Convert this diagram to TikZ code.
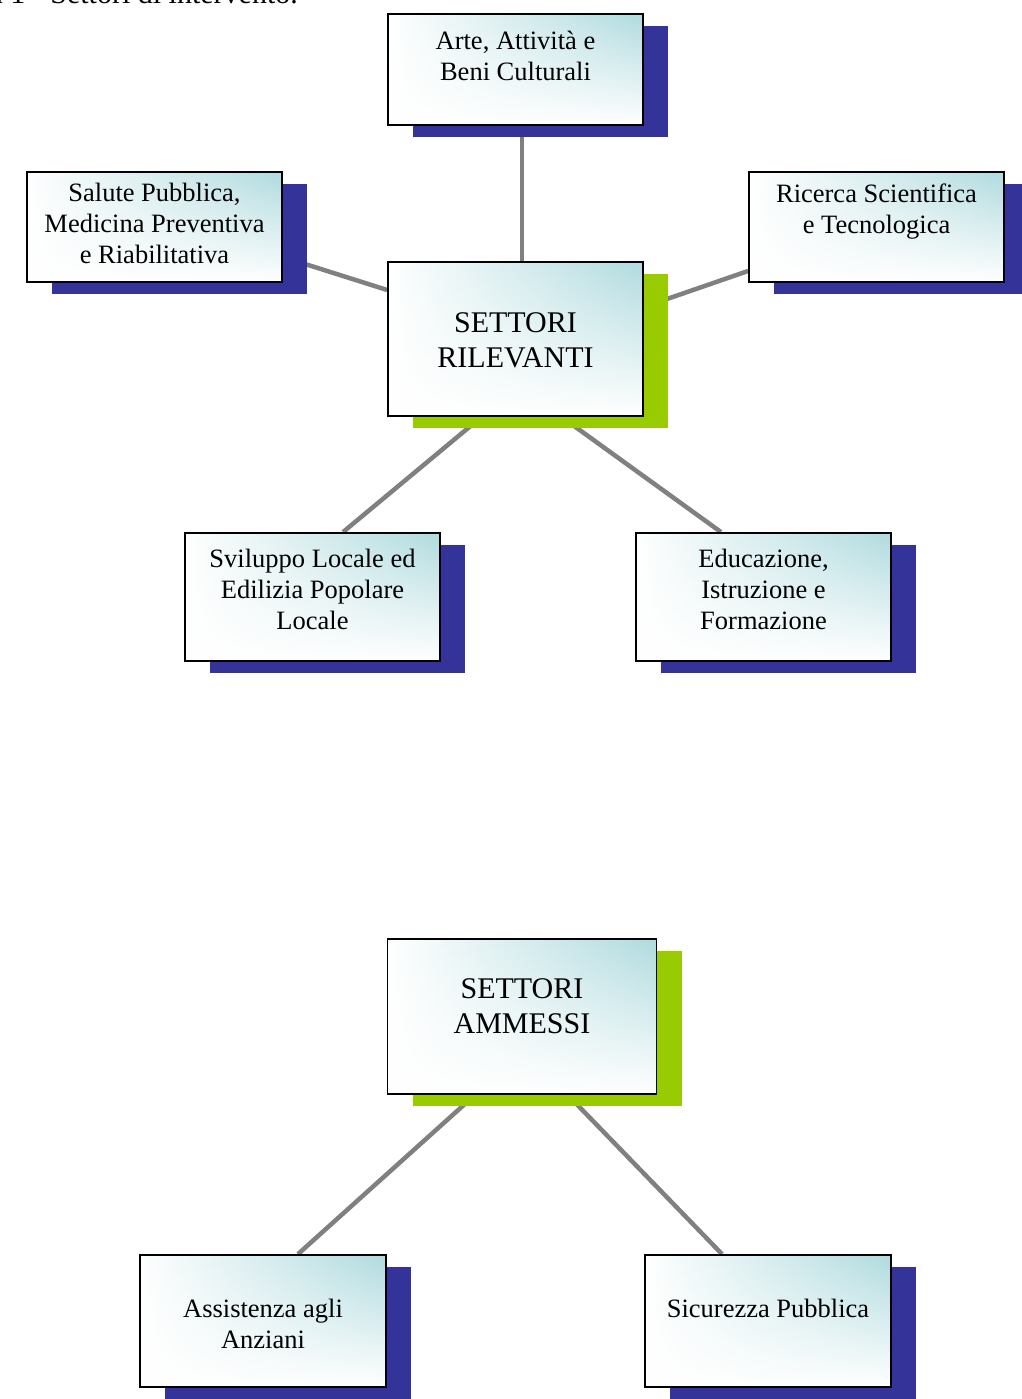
\documentclass[tikz,border=0pt]{standalone}
\usepackage{fontspec}
\setmainfont{Liberation Serif}
\usetikzlibrary{calc,shadows,fadings,backgrounds}
\definecolor{sblue}{RGB}{51,51,153}
\definecolor{sgreen}{RGB}{153,204,0}
\definecolor{tealc}{RGB}{176,219,223}
\definecolor{linkc}{RGB}{128,128,128}
\tikzset{
  boxbase/.style={rectangle, draw=black, line width=1.8pt, inner sep=0pt,
    path picture={
      \fill[left color=white, right color=tealc]
        (path picture bounding box.south west) rectangle (path picture bounding box.north east);
      \fill[white, path fading=north]
        (path picture bounding box.south west) rectangle (path picture bounding box.north east);
    }},
  bluebox/.style={boxbase, general shadow={fill=sblue, shadow xshift=25pt, shadow yshift=-12pt}},
  greenbox/.style={boxbase, general shadow={fill=sgreen, shadow xshift=25pt, shadow yshift=-12pt}},
  txt/.style={align=center, inner sep=0pt, anchor=base, font=\fontsize{26.5}{31}\selectfont},
  bigtxt/.style={align=center, inner sep=0pt, anchor=base, font=\fontsize{30}{35}\selectfont},
  link/.style={draw=linkc, line width=4.5pt}
}
\begin{document}
\begin{tikzpicture}[x=1pt,y=1pt]
\useasboundingbox (0,0) rectangle (1021,1399);
\node[anchor=base east, inner sep=0pt, font=\fontsize{30}{34}\selectfont] (title) at (298,1395.5) {Figura 1 - Settori di intervento.};

\node[bluebox, minimum width=255pt, minimum height=111pt] (arte) at (515.5,1329.5) {};
\node[txt] (artet) at (515.5,1318) {Arte, Attività e\\Beni Culturali};

\node[bluebox, minimum width=255pt, minimum height=110pt] (sal) at (154.5,1172) {};
\node[txt] (salt) at (154.5,1135) {Salute Pubblica,\\Medicina Preventiva\\e Riabilitativa};

\node[bluebox, minimum width=255pt, minimum height=110pt] (ric) at (876.5,1172) {};
\node[txt] (rict) at (876.5,1165) {Ricerca Scientifica\\e Tecnologica};

\node[greenbox, minimum width=255pt, minimum height=154pt] (ril) at (515.5,1060) {};
\node[bigtxt] (rilt) at (515.5,1031) {SETTORI\\RILEVANTI};

\node[bluebox, minimum width=255pt, minimum height=128pt] (svi) at (312.5,802) {};
\node[txt] (svit) at (312.5,769.5) {Sviluppo Locale ed\\Edilizia Popolare\\Locale};

\node[bluebox, minimum width=255pt, minimum height=128pt] (edu) at (763.5,802) {};
\node[txt] (edut) at (763.5,769.5) {Educazione,\\Istruzione e\\Formazione};

\node[greenbox, minimum width=269pt, minimum height=155pt] (amm) at (522,382.5) {};
\node[bigtxt] (ammt) at (522,365) {SETTORI\\AMMESSI};

\node[bluebox, minimum width=246pt, minimum height=132pt] (ass) at (263,78) {};
\node[txt] (asst) at (263,50) {Assistenza agli\\Anziani};

\node[bluebox, minimum width=246pt, minimum height=132pt] (sic) at (768,78) {};
\node[txt] (sict) at (768,81.5) {Sicurezza Pubblica};

\begin{scope}[on background layer]
\draw[link] ($(arte.south)+(6.5,0)$) -- ($(ril.north)+(6.5,0)$);
\draw[link] ($(sal.east)+(0,-30)$) -- ($(ril.west)+(0,49)$);
\draw[link] ($(ric.west)+(0,-44)$) -- ($(ril.east)+(0,32)$);
\draw[link] ($(ril.south)+(-34,0)$) -- ($(svi.north)+(30.5,0)$);
\draw[link] ($(ril.south)+(46,0)$) -- ($(edu.north)+(-42.5,0)$);
\draw[link] ($(amm.south)+(-47,0)$) -- ($(ass.north)+(35,0)$);
\draw[link] ($(amm.south)+(45.7,0)$) -- ($(sic.north)+(-46,0)$);
\end{scope}
\end{tikzpicture}
\end{document}
